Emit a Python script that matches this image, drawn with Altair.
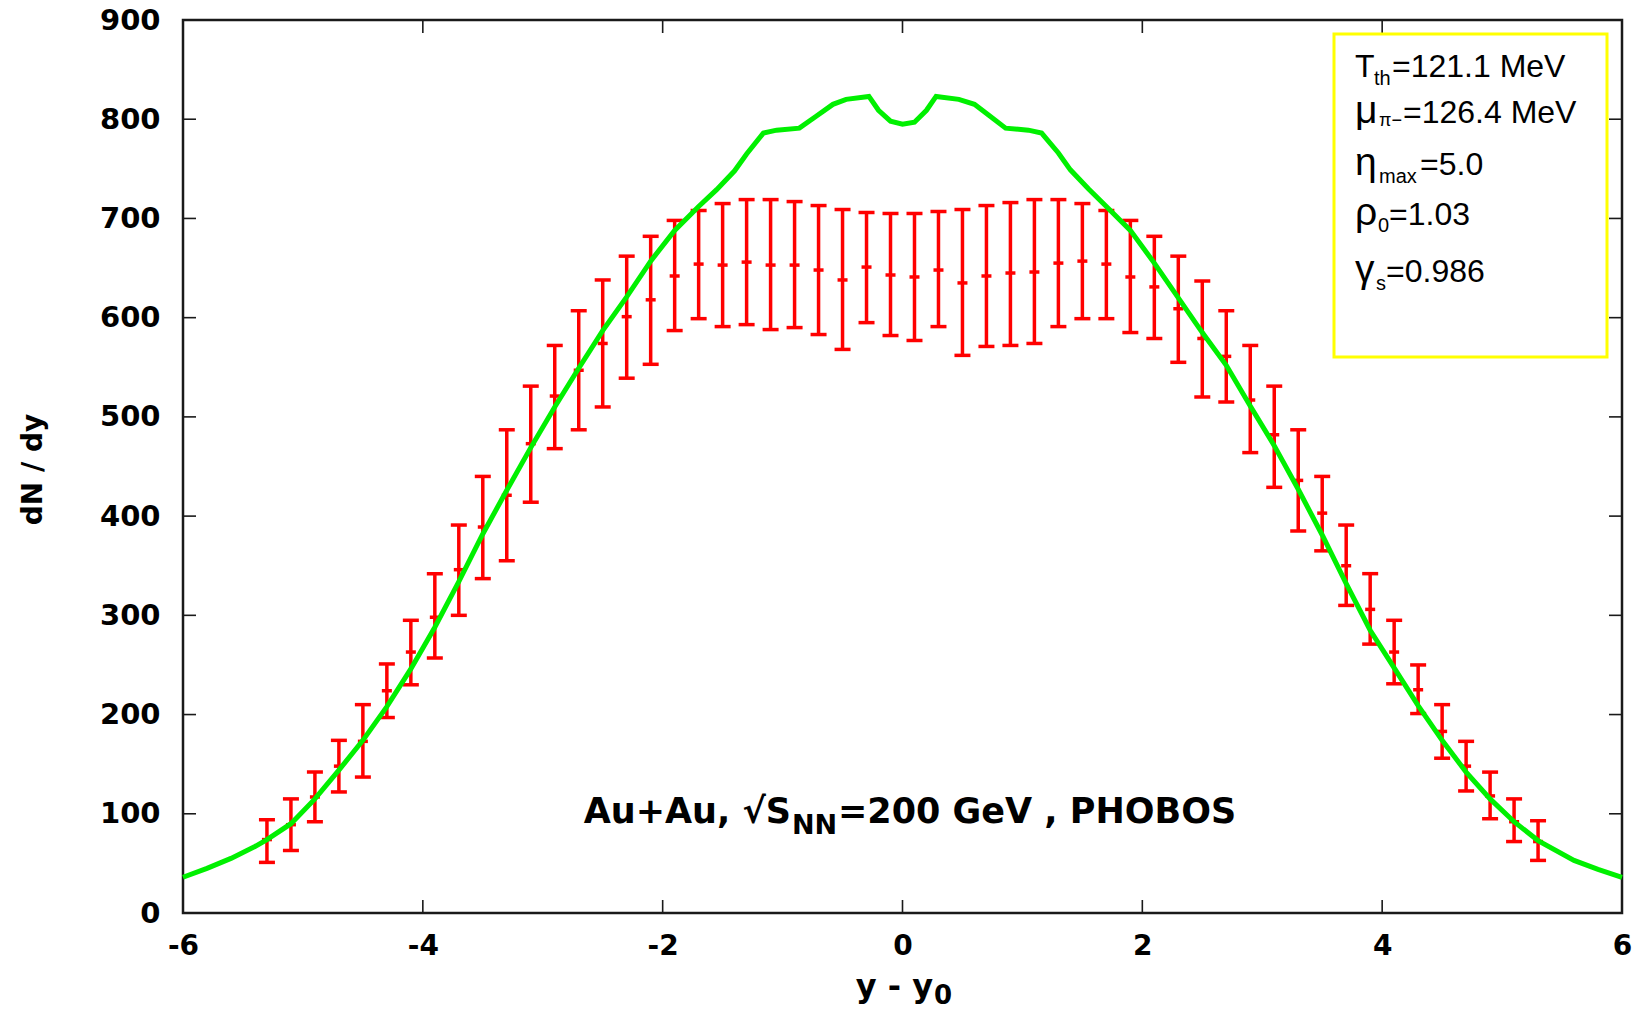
import altair as alt
import pandas as pd

# ---- data ----
x_data = [-5.3, -5.1, -4.9, -4.7, -4.5, -4.3, -4.1, -3.9, -3.7, -3.5, -3.3, -3.1, -2.9, -2.7,
          -2.5, -2.3, -2.1, -1.9, -1.7, -1.5, -1.3, -1.1, -0.9, -0.7, -0.5, -0.3, -0.1,
          0.1, 0.3, 0.5, 0.7, 0.9, 1.1, 1.3, 1.5, 1.7, 1.9, 2.1, 2.3, 2.5, 2.7, 2.9, 3.1,
          3.3, 3.5, 3.7, 3.9, 4.1, 4.3, 4.5, 4.7, 4.9, 5.1, 5.3]
y_data = [74, 89, 117, 148, 173, 224, 263, 298, 346, 389, 421, 473, 521, 547,
          574, 601, 618, 642, 654, 653, 656, 653, 653, 648, 638, 651, 643,
          641, 648, 635, 642, 645, 646, 655, 657, 654, 641, 631, 609, 579, 561, 517, 482,
          436, 403, 350, 306, 263, 225, 183, 148, 118, 92, 72]
y_low = [51, 63, 92, 122, 137, 197, 230, 257, 300, 337, 355, 414, 468, 487,
         510, 539, 553, 587, 599, 591, 593, 588, 590, 583, 568, 595, 582,
         577, 591, 562, 571, 572, 574, 591, 599, 599, 585, 579, 555, 520, 515, 464, 429,
         385, 365, 310, 271, 231, 201, 156, 123, 95, 72, 53]
y_high = [94, 115, 142, 174, 210, 251, 295, 342, 391, 440, 487, 531, 572, 607,
          638, 662, 682, 698, 708, 715, 719, 719, 717, 713, 709, 706, 705,
          705, 707, 709, 713, 716, 719, 719, 715, 708, 698, 682, 662, 637, 607, 572, 531,
          487, 440, 391, 342, 295, 250, 210, 173, 142, 115, 93]

curve_x = [-6.0, -5.8, -5.6, -5.4, -5.3, -5.1, -4.9, -4.7, -4.5, -4.3, -4.1, -3.9, -3.7,
           -3.5, -3.3, -3.1, -2.9, -2.7, -2.5, -2.3, -2.1, -1.9, -1.7, -1.55, -1.4, -1.3,
           -1.16, -1.05, -0.86, -0.72, -0.58, -0.47, -0.28, -0.2, -0.1, 0.0, 0.1, 0.2,
           0.28, 0.47, 0.6, 0.72, 0.86, 1.05, 1.16, 1.3, 1.4, 1.55, 1.7, 1.9, 2.1, 2.3,
           2.5, 2.7, 2.9, 3.1, 3.3, 3.5, 3.7, 3.9, 4.1, 4.3, 4.5, 4.7, 4.9, 5.1, 5.3,
           5.6, 5.8, 6.0]
curve_y = [36, 45, 55, 67, 74, 90, 115, 144, 174, 208, 246, 288, 334,
           382, 426, 469, 510, 549, 587, 621, 657, 688, 712, 729, 748, 765,
           786, 789, 791, 803, 815, 820, 823, 809, 798, 795, 797, 809,
           823, 820, 815, 804, 791, 789, 786, 766, 749, 730, 712, 688, 655, 620,
           585, 552, 511, 471, 427, 381, 332, 285, 247, 209, 174, 142, 115, 92, 73,
           53, 44, 36]

x_ticks = [-6, -4, -2, 0, 2, 4, 6]
y_ticks = [0, 100, 200, 300, 400, 500, 600, 700, 800, 900]

# ---- layout ----
W, H = 1439, 893
RED = "#ff0000"
GREEN = "#00f000"
FRAME = "#1a1a1a"
BOLD = "DejaVu Sans"
REG = "Liberation Sans"

xs = alt.Scale(domain=[-6, 6], nice=False, zero=False)
ys = alt.Scale(domain=[0, 900], nice=False, zero=False)

x_axis = alt.Axis(values=x_ticks, title=None, ticks=False, tickSize=0, domain=False,
                  grid=False, labelFont=BOLD, labelFontWeight="bold", labelFontSize=28,
                  labelPadding=19, labelColor="black", labelFlush=False,
                  labelExpr="'' + datum.value")
y_axis = alt.Axis(values=y_ticks, title="dN / dy", ticks=False, tickSize=0, domain=False,
                  grid=False, labelFont=BOLD, labelFontWeight="bold", labelFontSize=29,
                  labelPadding=23, labelColor="black", labelFlush=False,
                  titleFont=BOLD, titleFontWeight="bold", titleFontSize=28,
                  titleColor="black", titleX=-136, titleY=449)

X = alt.X("x:Q", scale=xs, axis=x_axis)
Y = alt.Y("y:Q", scale=ys, axis=y_axis)

pts = pd.DataFrame({"x": x_data, "y": y_data, "lo": y_low, "hi": y_high})
curve = pd.DataFrame({"x": curve_x, "y": curve_y})
one = pd.DataFrame({"a": [0]})

bars = alt.Chart(pts).mark_rule(color=RED, strokeWidth=3.5).encode(
    x=X, y=alt.Y("lo:Q", scale=ys, axis=y_axis), y2="hi:Q")
cap_lo = alt.Chart(pts).mark_tick(color=RED, orient="horizontal", size=16, thickness=3.5,
                                  opacity=1).encode(x=X, y=alt.Y("lo:Q", scale=ys, axis=y_axis))
cap_hi = alt.Chart(pts).mark_tick(color=RED, orient="horizontal", size=16, thickness=3.5,
                                  opacity=1).encode(x=X, y=alt.Y("hi:Q", scale=ys, axis=y_axis))
center = alt.Chart(pts).mark_tick(color=RED, orient="horizontal", size=10, thickness=3.5,
                                  opacity=1).encode(x=X, y=Y)

line = alt.Chart(curve).mark_line(color=GREEN, strokeWidth=5, interpolate="linear").encode(
    x=X, y=Y)

# inward tick marks on all four sides
ytk = pd.DataFrame({"y": y_ticks[1:-1]})
xtk = pd.DataFrame({"x": x_ticks[1:-1]})
tick_style = dict(color=FRAME, strokeWidth=1.6)
t_left = alt.Chart(ytk).mark_rule(**tick_style).encode(y=Y, x=alt.value(0), x2=alt.value(13))
t_right = alt.Chart(ytk).mark_rule(**tick_style).encode(y=Y, x=alt.value(W), x2=alt.value(W - 13))
t_bottom = alt.Chart(xtk).mark_rule(**tick_style).encode(x=X, y=alt.value(H), y2=alt.value(H - 13))
t_top = alt.Chart(xtk).mark_rule(**tick_style).encode(x=X, y=alt.value(0), y2=alt.value(13))


def txt(text, px, py, size, font=REG, weight="normal", align="left"):
    return alt.Chart(one).mark_text(text=text, font=font, fontSize=size, fontWeight=weight,
                                    align=align, baseline="alphabetic", color="black").encode(
        x=alt.value(px), y=alt.value(py))


# parameter box
box = alt.Chart(one).mark_rect(fill="white", stroke="#ffff00", strokeWidth=3).encode(
    x=alt.value(1151), x2=alt.value(1424), y=alt.value(14), y2=alt.value(337))

labels = [
    txt("T", 1172, 57, 32), txt("th", 1191, 65, 20), txt("=121.1 MeV", 1209, 57, 32),
    txt("μ", 1172, 103, 39), txt("π−", 1196, 106, 18), txt("=126.4 MeV", 1220, 103, 32),
    txt("η", 1172, 155, 39), txt("max", 1196, 163, 20), txt("=5.0", 1237, 155, 32),
    txt("ρ", 1172, 205, 39), txt("0", 1195, 212, 20), txt("=1.03", 1206, 205, 32),
    txt("γ", 1172, 262, 39), txt("s", 1193, 270, 20), txt("=0.986", 1203, 262, 32),
]

anno = [
    txt("Au+Au, √S", 608, 803, 35, font=BOLD, weight="bold", align="right"),
    txt("NN", 609, 814, 27, font=BOLD, weight="bold"),
    txt("=200 GeV , PHOBOS", 655, 803, 35, font=BOLD, weight="bold"),
    txt("y - y", 750, 977, 32, font=BOLD, weight="bold", align="right"),
    txt("0", 751, 984, 26, font=BOLD, weight="bold"),
]

chart = alt.layer(
    bars, cap_lo, cap_hi, center, line,
    t_left, t_right, t_bottom, t_top,
    box, *labels, *anno,
).properties(
    width=W, height=H,
    autosize=alt.AutoSizeParams(type="none"),
    padding={"left": 175, "top": 12, "right": 14, "bottom": 99},
    background="white",
).configure_view(stroke=FRAME, strokeWidth=2.5)

chart.save("out.html", embed_options={"renderer": "svg", "actions": False})
